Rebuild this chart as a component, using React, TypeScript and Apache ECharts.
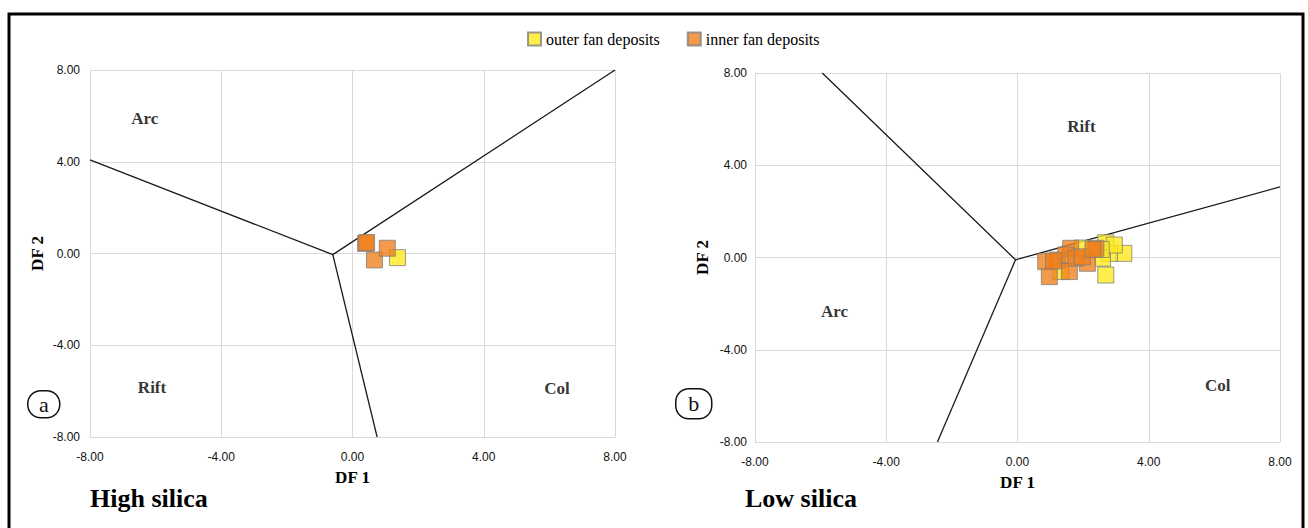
import React, { useEffect, useRef } from "react";
import * as echarts from "echarts";

const seriesNames = ["outer fan deposits", "inner fan deposits"];
const axisTicks = [-8, -4, 0, 4, 8];

// High silica panel (a)
const highOuter = [[1.37, -0.18]];
const highInner = [[0.40, 0.44], [0.43, 0.48], [0.67, -0.28], [1.06, 0.23]];
const highBoundaryMain = [[-8, 4.08], [-0.6, -0.05], [8, 8]];
const highBoundaryDown = [[-0.6, -0.05], [0.75, -8]];
const highRegions = [
  { name: "Arc", value: [-6.33, 5.9] },
  { name: "Rift", value: [-6.11, -5.86] },
  { name: "Col", value: [6.23, -5.9] },
];

// Low silica panel (b)
const lowOuter = [
  [2.69, 0.64], [3.24, 0.18], [2.69, -0.76], [2.8, 0.18], [2.59, -0.03],
  [1.32, -0.61], [1.98, 0.41], [2.95, 0.54], [2.55, 0.35],
];
const lowInner = [
  [2.39, 0.4], [1.62, 0.4], [0.86, -0.18], [0.97, -0.83], [1.22, -0.11],
  [1.58, -0.61], [2.13, -0.25], [1.47, 0.11], [1.78, -0.03], [1.98, 0.03],
  [1.1, -0.15], [2.3, 0.35],
];
const lowBoundaryMain = [[-5.95, 8], [-0.06, -0.1], [8, 3.06]];
const lowBoundaryDown = [[-0.06, -0.1], [-2.44, -8]];
const lowRegions = [
  { name: "Rift", value: [1.95, 5.7] },
  { name: "Arc", value: [-5.58, -2.36] },
  { name: "Col", value: [6.1, -5.53] },
];

const SERIF = "'Liberation Serif', 'Times New Roman', serif";
const SANS = "'Liberation Sans', Arial, sans-serif";

const outerStyle = { color: "#FFE81F", opacity: 0.8, borderColor: "#7f7f7f", borderWidth: 1 };
const innerStyle = { color: "#EE7F1A", opacity: 0.78, borderColor: "#7f7f7f", borderWidth: 1 };

function xAxis(gridIndex: number) {
  return {
    type: "value",
    gridIndex,
    min: axisTicks[0],
    max: axisTicks[axisTicks.length - 1],
    interval: 4,
    name: "DF 1",
    nameLocation: "middle",
    nameGap: 32,
    nameTextStyle: { fontFamily: SERIF, fontWeight: "bold", fontSize: 17, color: "#000" },
    axisLine: { show: true, onZero: false, lineStyle: { color: "#d9d9d9" } },
    axisTick: { show: false },
    axisLabel: {
      fontFamily: SANS, fontSize: 12, color: "#111", margin: 14,
      formatter: (v: number) => v.toFixed(2),
    },
    splitLine: { show: true, lineStyle: { color: "#d9d9d9" } },
  };
}

function yAxis(gridIndex: number, margin: number) {
  return {
    type: "value",
    gridIndex,
    min: axisTicks[0],
    max: axisTicks[axisTicks.length - 1],
    interval: 4,
    name: "DF 2",
    nameLocation: "middle",
    nameGap: 44,
    nameRotate: 90,
    nameTextStyle: { fontFamily: SERIF, fontWeight: "bold", fontSize: 17, color: "#000" },
    axisLine: { show: true, onZero: false, lineStyle: { color: "#d9d9d9" } },
    axisTick: { show: false },
    axisLabel: {
      fontFamily: SANS, fontSize: 12, color: "#111", margin,
      formatter: (v: number) => v.toFixed(2),
    },
    splitLine: { show: true, lineStyle: { color: "#d9d9d9" } },
  };
}

function boundary(data: number[][], idx: number) {
  return {
    type: "line",
    xAxisIndex: idx,
    yAxisIndex: idx,
    data,
    symbol: "none",
    silent: true,
    lineStyle: { color: "#1a1a1a", width: 1.3 },
    z: 1,
  };
}

function regions(data: any[], idx: number) {
  return {
    type: "scatter",
    xAxisIndex: idx,
    yAxisIndex: idx,
    data,
    symbolSize: 0,
    silent: true,
    label: {
      show: true,
      position: "inside",
      formatter: (p: any) => p.name,
      fontFamily: SERIF,
      fontWeight: "bold",
      fontSize: 17,
      color: "#000",
    },
  };
}

function points(name: string, data: number[][], idx: number, style: any) {
  return {
    type: "scatter",
    name,
    xAxisIndex: idx,
    yAxisIndex: idx,
    data,
    symbol: "rect",
    symbolSize: 16,
    itemStyle: style,
    z: 3,
  };
}

function panelTag(letter: string, x: number, y: number, w: number, h: number) {
  return {
    type: "group",
    left: x,
    top: y,
    children: [
      {
        type: "rect",
        shape: { x: 0, y: 0, width: w, height: h, r: 13 },
        style: { fill: "#fff", stroke: "#111", lineWidth: 1.5 },
      },
      {
        type: "text",
        x: w / 2,
        y: h / 2,
        style: {
          text: letter, fontFamily: SERIF, fontSize: 22, fill: "#111",
          align: "center", verticalAlign: "middle",
        },
      },
    ],
  };
}

export default function App() {
  const ref = useRef<HTMLDivElement>(null);
  useEffect(() => {
    if (!ref.current) return;
    const chart = echarts.init(ref.current, null, { renderer: "svg" });
    chart.setOption({
      animation: false,
      backgroundColor: "#fff",
      legend: {
        data: seriesNames,
        left: 527,
        top: 31,
        itemWidth: 13,
        itemHeight: 13,
        itemGap: 27,
        icon: "rect",
        padding: 0,
        textStyle: { fontFamily: SERIF, fontSize: 16, color: "#000" },
      },
      grid: [
        { left: 90, top: 70, width: 525, height: 367 },
        { left: 755, top: 73, width: 525, height: 369 },
      ],
      xAxis: [xAxis(0), xAxis(1)],
      yAxis: [yAxis(0, 10), yAxis(1, 8)],
      series: [
        boundary(highBoundaryMain, 0),
        boundary(highBoundaryDown, 0),
        boundary(lowBoundaryMain, 1),
        boundary(lowBoundaryDown, 1),
        regions(highRegions, 0),
        regions(lowRegions, 1),
        points(seriesNames[0], highOuter, 0, outerStyle),
        points(seriesNames[0], lowOuter, 1, outerStyle),
        points(seriesNames[1], highInner, 0, innerStyle),
        points(seriesNames[1], lowInner, 1, innerStyle),
      ],
      graphic: [
        {
          type: "rect",
          shape: { x: 9, y: 14, width: 1294, height: 540 },
          style: { fill: "none", stroke: "#000", lineWidth: 3 },
          silent: true,
        },
        panelTag("a", 27, 390, 32, 27),
        panelTag("b", 675, 388, 36, 30),
        {
          type: "text",
          left: 90,
          top: 485,
          style: { text: "High silica", fontFamily: SERIF, fontWeight: "bold", fontSize: 26, fill: "#000" },
        },
        {
          type: "text",
          left: 745,
          top: 485,
          style: { text: "Low silica", fontFamily: SERIF, fontWeight: "bold", fontSize: 26, fill: "#000" },
        },
      ],
    });
    return () => chart.dispose();
  }, []);
  return (
    <div
      ref={ref}
      style={{ position: "absolute", left: 0, top: 0, width: 1308, height: 528 }}
    />
  );
}
